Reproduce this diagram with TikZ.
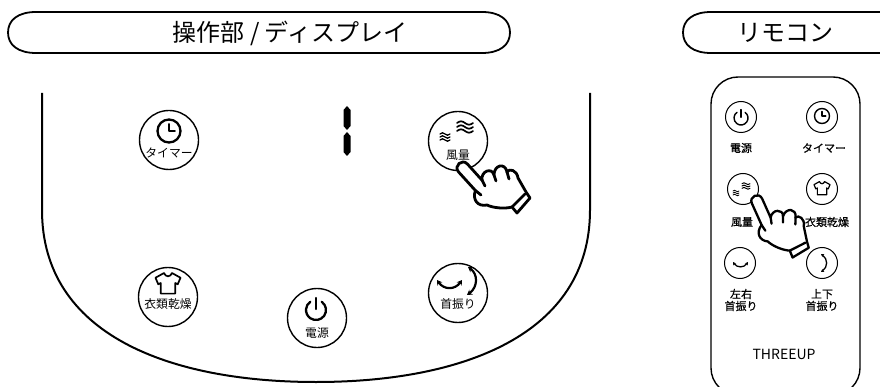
\documentclass[tikz,border=0pt]{standalone}
\usepackage{fontspec}
\newfontfamily\jpfont{Noto Sans CJK JP}
\newfontfamily\jpheavy[FakeBold=0.6]{Noto Sans CJK JP}
\usetikzlibrary{arrows.meta}

% clock: centre x, y, radius, line width
\newcommand\clockicon[4]{%
  \draw[line width=#4] (#1,#2) circle[radius=#3];
  \draw[line width=#4, line cap=round, line join=round]
    ({#1},{#2-0.6*#3}) -- (#1,#2) -- ({#1+0.5*#3},{#2});
}
% power symbol: centre x, y, radius, line width
\newcommand\powericon[4]{%
  \draw[line width=#4, line cap=round] (#1,#2) ++(-55:#3)
    arc[start angle=-55, end angle=235, radius=#3];
  \draw[line width=#4, line cap=round] ({#1},{#2-0.1*#3}) -- ({#1},{#2-1.2*#3});
}
% t-shirt outline: centre x, y, half width, line width
\newcommand\shirticon[4]{%
  \begin{scope}[shift={(#1,#2)}, scale=#3]
    \draw[line width=#4, line join=round]
      (-0.32,-0.8) -- (-1,-0.42) -- (-0.78,0.1) -- (-0.58,0) -- (-0.58,0.85)
      -- (0.58,0.85) -- (0.58,0) -- (0.78,0.1) -- (1,-0.42) -- (0.32,-0.8)
      .. controls (0.2,-0.45) and (-0.2,-0.45) .. (-0.32,-0.8) -- cycle;
  \end{scope}
}
% one tilde stroke: centre x, y, width, amplitude, line width
\newcommand\tildeline[5]{%
  \draw[line width=#5, line cap=round]
    ({#1-#3/2},{#2}) sin ({#1-#3/4},{#2-#4}) cos ({#1},{#2})
    sin ({#1+#3/4},{#2+#4}) cos ({#1+#3/2},{#2});
}
% stacked tildes (wind level): centre x, y, width, amplitude, gap, line width
\newcommand\windicon[6]{%
  \tildeline{#1}{#2-#5}{#3}{#4}{#6}
  \tildeline{#1}{#2}{#3}{#4}{#6}
  \tildeline{#1}{#2+#5}{#3}{#4}{#6}
}
% pointing hand, fingertip at the local origin
\newcommand\handshape[1]{%
  \begin{scope}[#1]
    \draw[fill=white, line join=round, line cap=round]
      (12.4,22.5) -- (-4.4,4)
      .. controls (-9.8,-1.9) and (-1,-9.9) .. (4.4,-4)
      -- (19.1,12.3)
      .. controls (17.5,3) and (29,-1) .. (31,7)
      .. controls (31,-3) and (42,-6) .. (44,4)
      .. controls (46,0) and (54,2) .. (55,10)
      -- (63,24) -- (67,30) -- (54,45) -- (49,39)
      .. controls (42,41) and (30,40) .. (24,37)
      .. controls (15,39) and (9,32) .. (12.4,22.5) -- cycle;
    \draw[line cap=round] (19.1,12.3) -- (22,18);
    \draw[line cap=round] (31,7) -- (33,13);
    \draw[line cap=round] (44,4) -- (46,11);
    \draw[line cap=round] (49,39) -- (62,26);
    \draw[line cap=round] (12.4,22.5) -- (18,27);
  \end{scope}
}

\begin{document}
\begin{tikzpicture}[x=1pt, y=-1pt,
  outline/.style={line width=1.8pt},
  btn/.style={circle, draw, line width=1.4pt, minimum size=59pt, inner sep=0pt},
  rbtn/.style={circle, draw, line width=1pt, minimum size=31pt, inner sep=0pt},
  heading/.style={font=\jpfont\fontsize{24}{24}\selectfont, inner sep=0pt},
  lbl/.style={font=\jpfont\fontsize{11.8}{12}\selectfont, inner sep=0pt},
  rlbl/.style={font=\jpheavy\fontsize{11}{12}\selectfont, inner sep=0pt, align=center},
  swing/.style={line width=2.2pt, {Stealth[length=5pt,width=6pt]}-{Stealth[length=5pt,width=6pt]}},
  rswing/.style={line width=1.3pt, {Stealth[length=3pt,width=3.5pt]}-{Stealth[length=3pt,width=3.5pt]}},
]
\useasboundingbox (0,0) rectangle (880,387);
\clip (0,0) rectangle (880,387);

% ---- headings ----
\draw[outline] (36,12) -- (482,12) .. controls (500,12) and (510,20) .. (510,32.5)
  .. controls (510,45) and (500,53) .. (482,53) -- (36,53)
  .. controls (18,53) and (8,45) .. (8,32.5) .. controls (8,20) and (18,12) .. (36,12) -- cycle;
\node[heading] (paneltitle) at (290,33) {操作部 / ディスプレイ};

\draw[outline] (711,12) -- (880,12) .. controls (898,12) and (908,20) .. (908,32.5)
  .. controls (908,45) and (898,53) .. (880,53) -- (711,53)
  .. controls (693,53) and (683,45) .. (683,32.5) .. controls (683,20) and (693,12) .. (711,12) -- cycle;
\node[heading] (remotetitle) at (785,33) {リモコン};

% ---- control panel ----
\draw[outline, line width=2pt] (42,93) -- (42,210)
  .. controls (42,335) and (170,382) .. (316,382)
  .. controls (462,382) and (590,335) .. (590,210) -- (590,93);

% one-digit display
\fill (347,106) -- (350.5,110) -- (350.5,126) -- (347,130) -- (343.5,126) -- (343.5,110) -- cycle;
\fill (347,132) -- (350.5,136) -- (350.5,152) -- (347,156) -- (343.5,152) -- (343.5,136) -- cycle;

\node[btn] (ptimer) at (169,140) {};
\clockicon{169}{131}{11.5}{2.3pt}
\node[lbl] (ptimerlbl) at (169,153) {タイマー};

\node[btn] (pwind) at (458,141) {};
\windicon{445}{137}{10}{1.2}{3}{1.3pt}
\windicon{465}{127}{16}{1.7}{4}{1.7pt}
\node[lbl] (pwindlbl) at (458,155) {風量};

\node[btn] (pdry) at (168,297) {};
\shirticon{168}{283}{12.5}{1.7pt}
\node[lbl] (pdrylbl) at (168,304) {衣類乾燥};

\node[btn] (ppower) at (317,318) {};
\powericon{316}{310}{10}{2.3pt}
\node[lbl] (ppowerlbl) at (317,333) {電源};

\node[btn] (pswing) at (458,293) {};
\draw[swing] (437,280) .. controls (444,290) and (455,290) .. (462,280);
\draw[swing] (468,267) .. controls (478,274) and (478,287) .. (467,295);
\node[lbl] (pswinglbl) at (458,304) {首振り};

\handshape{shift={(463,168)}, line width=2.8pt}

% ---- remote control ----
\draw[line width=1.4pt, rounded corners=27pt] (711,77) rectangle (860,395);

\node[rbtn] (rpower) at (741,117) {};
\powericon{741}{118}{7}{1.4pt}
\node[rlbl] (rpowerlbl) at (741,148) {電源};

\node[rbtn] (rtimer) at (822,117) {};
\clockicon{822}{116}{7.5}{1.4pt}
\node[rlbl] (rtimerlbl) at (824,148) {タイマー};

\node[rbtn] (rwind) at (743,189) {};
\windicon{736}{193}{6}{0.7}{2}{0.8pt}
\windicon{746}{186}{8}{0.9}{2.3}{1pt}
\node[rlbl] (rwindlbl) at (742,222) {風量};

\node[rbtn] (rdry) at (822,189) {};
\shirticon{822}{188}{8}{1.2pt}
\node[rlbl] (rdrylbl) at (827,222) {衣類乾燥};

\node[rbtn] (rswingh) at (740,263) {};
\draw[rswing] (733,262) .. controls (737,268) and (744,268) .. (748,262);
\node[rlbl] (rswinghlbl) at (741,300) {左右\\首振り};

\node[rbtn] (rswingv) at (822,263) {};
\draw[rswing] (821,254) .. controls (828,259) and (828,267) .. (821,272);
\node[rlbl] (rswingvlbl) at (822,300) {上下\\首振り};

\node[font=\jpfont\fontsize{14}{14}\selectfont, inner sep=0pt] (brand) at (784,354) {THREEUP};

\handshape{shift={(757,201)}, rotate=-18, scale=0.95, line width=2.3pt}
\end{tikzpicture}
\end{document}
